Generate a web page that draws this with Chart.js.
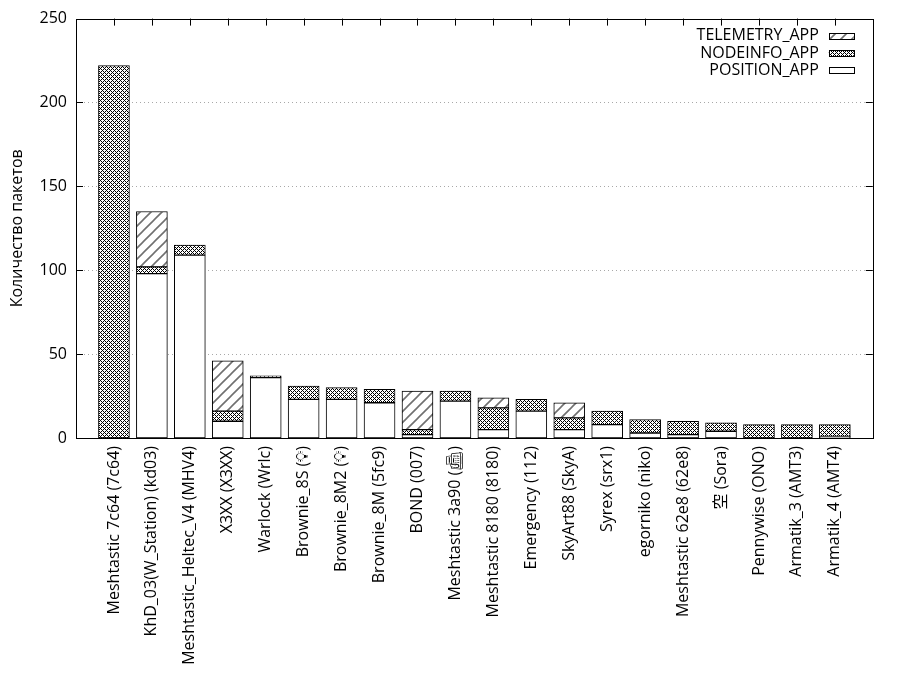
<!DOCTYPE html>
<html>
<head>
<meta charset="utf-8">
<script src="https://cdn.jsdelivr.net/npm/chart.js@4.4.1/dist/chart.umd.min.js"></script>
<style>
    html, body { margin: 0; padding: 0; background: #fff; }
    #wrap { width: 900px; height: 700px; position: relative; }
</style>
</head>
<body>
<div id="wrap"><canvas id="packetsChart"></canvas></div>
<script>
// Nodes (x axis)
const nodeNames = [
    'Meshtastic 7c64 (7c64)',
    'KhD_03(W_Station) (kd03)',
    'Meshtastic_Heltec_V4 (MHV4)',
    'X3XX (X3XX)',
    'Warlock (Wrlc)',
    'Brownie_8S (💡\uFE0E)',
    'Brownie_8M2 (💡\uFE0E)',
    'Brownie_8M (5fc9)',
    'BOND (007)',
    'Meshtastic 3a90 (📠\uFE0E)',
    'Meshtastic 8180 (8180)',
    'Emergency (112)',
    'SkyArt88 (SkyA)',
    'Syrex (srx1)',
    'egorniko (niko)',
    'Meshtastic 62e8 (62e8)',
    '空 (Sora)',
    'Pennywise (ONO)',
    'Armatik_3 (AMT3)',
    'Armatik_4 (AMT4)'
];

// Packet counts per type
const positionApp  = [0, 98, 109, 10, 36, 23, 23, 21, 2, 22, 5, 16, 5, 8, 3, 2, 4, 0, 0, 1];
const nodeinfoApp  = [222, 4, 6, 6, 1, 8, 7, 8, 3, 6, 13, 7, 7, 8, 8, 8, 5, 8, 8, 7];
const telemetryApp = [0, 33, 0, 30, 0, 0, 0, 0, 23, 0, 6, 0, 9, 0, 0, 0, 0, 0, 0, 0];

const yTicks = [0, 50, 100, 150, 200, 250];
const yTitle = 'Количество пакетов';

const FONT = "'Open Sans', 'Noto Sans CJK JP', sans-serif";

// fill patterns like gnuplot
function crossPattern() {
    const c = document.createElement('canvas');
    c.width = 4; c.height = 4;
    const g = c.getContext('2d');
    g.fillStyle = '#fff';
    g.fillRect(0, 0, 4, 4);
    g.fillStyle = '#000';
    [[0, 0], [1, 1], [2, 2], [3, 3], [3, 1], [1, 3]].forEach(p => g.fillRect(p[0], p[1], 1, 1));
    return g.createPattern(c, 'repeat');
}

function hatchPattern() {
    const s = 11;
    const c = document.createElement('canvas');
    c.width = s; c.height = s;
    const g = c.getContext('2d');
    g.fillStyle = '#fff';
    g.fillRect(0, 0, s, s);
    g.strokeStyle = '#707070';
    g.lineWidth = 1.6;
    g.beginPath();
    g.moveTo(0, s); g.lineTo(s, 0);
    g.moveTo(-2, 2); g.lineTo(2, -2);
    g.moveTo(s - 2, s + 2); g.lineTo(s + 2, s - 2);
    g.stroke();
    return g.createPattern(c, 'repeat');
}

// empty slot at each end, like gnuplot's histogram range
const labels = [''].concat(nodeNames, ['']);
const pad = arr => [null].concat(arr, [null]);

// dotted grid, frame, inward ticks and key
const framePlugin = {
    id: 'frame',
    beforeDatasetsDraw(chart) {
        const { ctx, chartArea: a, scales } = chart;
        ctx.save();
        // dotted grid
        ctx.strokeStyle = '#a8a8a8';
        ctx.lineWidth = 1;
        ctx.setLineDash([1, 3]);
        ctx.beginPath();
        yTicks.slice(1, -1).forEach(v => {
            const y = Math.round(scales.y.getPixelForValue(v)) + 0.5;
            ctx.moveTo(a.left + 8, y); ctx.lineTo(a.right - 8, y);
        });
        ctx.stroke();
        ctx.setLineDash([]);

        ctx.strokeStyle = '#000';
        ctx.beginPath();
        yTicks.forEach(v => {
            const y = Math.round(scales.y.getPixelForValue(v)) + 0.5;
            ctx.moveTo(a.left, y); ctx.lineTo(a.left + 7, y);
            ctx.moveTo(a.right, y); ctx.lineTo(a.right - 7, y);
        });
        nodeNames.forEach((n, i) => {
            const x = Math.round(scales.x.getPixelForValue(i + 1)) + 0.5;
            ctx.moveTo(x, a.top); ctx.lineTo(x, a.top + 7);
        });
        ctx.stroke();
        ctx.restore();
    },
    afterDraw(chart) {
        const { ctx, chartArea: a } = chart;
        ctx.save();
        ctx.strokeStyle = '#000';
        ctx.lineWidth = 1;
        ctx.strokeRect(Math.round(a.left) + 0.5, Math.round(a.top) + 0.5,
            Math.round(a.right - a.left), Math.round(a.bottom - a.top));

        // key, top right, box to the right of the text
        const sets = chart.data.datasets.slice().reverse();
        const boxR = a.right - 19, boxW = 25, boxH = 6;
        ctx.font = '16px ' + FONT;
        ctx.textAlign = 'right';
        ctx.textBaseline = 'middle';
        sets.forEach((ds, i) => {
            const y = a.top + 17 + i * 17.4;
            ctx.fillStyle = '#000';
            ctx.fillText(ds.label, boxR - boxW - 10, y);
            ctx.fillStyle = ds.backgroundColor;
            ctx.fillRect(boxR - boxW, Math.round(y - boxH / 2), boxW, boxH);
            ctx.strokeRect(Math.round(boxR - boxW) + 0.5, Math.round(y - boxH / 2) + 0.5, boxW, boxH);
        });
        ctx.restore();
    }
};

Chart.defaults.font.family = FONT;
Chart.defaults.font.size = 16;
Chart.defaults.color = '#000';

const ctx = document.getElementById('packetsChart').getContext('2d');
const packetsChart = new Chart(ctx, {
    type: 'bar',
    data: {
        labels: labels,
        datasets: [
            {
                label: 'POSITION_APP',
                data: pad(positionApp),
                backgroundColor: '#ffffff'
            },
            {
                label: 'NODEINFO_APP',
                data: pad(nodeinfoApp),
                backgroundColor: crossPattern()
            },
            {
                label: 'TELEMETRY_APP',
                data: pad(telemetryApp),
                backgroundColor: hatchPattern()
            }
        ]
    },
    options: {
        responsive: true,
        maintainAspectRatio: false,
        animation: false,
        layout: {
            padding: { top: 18, right: 26, left: 0, bottom: 0 }
        },
        datasets: {
            bar: {
                barThickness: 31,
                borderColor: '#000',
                borderWidth: 1,
                borderSkipped: false
            }
        },
        plugins: {
            legend: { display: false },
            tooltip: { enabled: false }
        },
        scales: {
            x: {
                stacked: true,
                offset: false,
                grid: { display: false, drawTicks: false },
                border: { display: false },
                ticks: {
                    autoSkip: false,
                    minRotation: 90,
                    maxRotation: 90,
                    padding: 8,
                    color: '#000'
                },
                afterFit(scale) { scale.height = 262; }
            },
            y: {
                stacked: true,
                min: 0,
                max: 250,
                border: { display: false },
                grid: { display: false, drawTicks: false },
                ticks: {
                    stepSize: 50,
                    padding: 9,
                    color: '#000'
                },
                title: {
                    display: true,
                    text: yTitle,
                    color: '#000',
                    padding: { top: 8, bottom: 0 }
                },
                afterFit(scale) { scale.width = 76; }
            }
        }
    },
    plugins: [framePlugin]
});
</script>
</body>
</html>
